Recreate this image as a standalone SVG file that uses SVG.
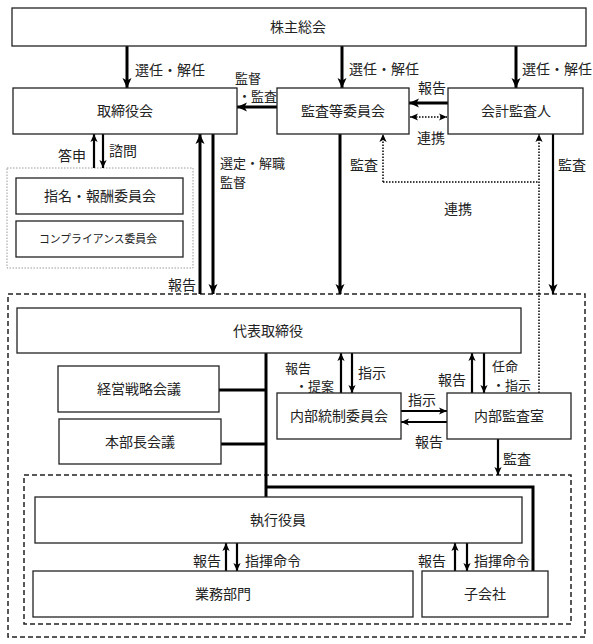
<svg xmlns="http://www.w3.org/2000/svg" width="593" height="644" viewBox="0 0 593 644">
<defs>
<marker id="ah" markerUnits="userSpaceOnUse" markerWidth="10" markerHeight="10" viewBox="0 0 10 10" refX="10" refY="5" orient="auto-start-reverse">
<path d="M0,0.5 L10,5 L0,9.5 L2.5,5 Z" fill="#000"/>
</marker>
<marker id="ahs" markerUnits="userSpaceOnUse" markerWidth="8" markerHeight="8" viewBox="0 0 10 10" refX="10" refY="5" orient="auto-start-reverse">
<path d="M0,0.5 L10,5 L0,9.5 L2.5,5 Z" fill="#000"/>
</marker>
</defs>
<style>
.box{fill:#fff;stroke:#222;stroke-width:1.3}
.t{font-family:"Noto Sans CJK JP","Noto Sans",sans-serif;font-size:14px;fill:#222;text-anchor:middle}
.l{font-family:"Noto Sans CJK JP","Noto Sans",sans-serif;font-size:14px;fill:#222}
.s{font-size:13px}
.th{stroke:#000;stroke-width:3;fill:none}
.md{stroke:#000;stroke-width:2.2;fill:none}
.dot{stroke:#000;stroke-width:1.5;stroke-dasharray:1.5 1.5;fill:none}
.dash{stroke:#222;stroke-width:1.5;stroke-dasharray:5 3;fill:none}
</style>
<rect width="593" height="644" fill="#fff"/>
<g id="frames">
<rect x="8" y="294" width="577" height="343" class="dash"/>
<rect x="24" y="475" width="547" height="149" class="dash"/>
<rect x="7" y="168" width="186" height="100" fill="none" stroke="#999" stroke-width="1" stroke-dasharray="1.5 1.5"/>
</g>
<g id="connectors">
<line x1="127" y1="46" x2="127" y2="88" class="th" marker-end="url(#ah)"/>
<line x1="342" y1="46" x2="342" y2="88" class="th" marker-end="url(#ah)"/>
<line x1="516" y1="46" x2="516" y2="88" class="th" marker-end="url(#ah)"/>
<line x1="277" y1="107" x2="237" y2="107" class="th" marker-end="url(#ah)"/>
<line x1="448" y1="103" x2="409" y2="103" class="th" marker-end="url(#ah)"/>
<line x1="410" y1="117" x2="447" y2="117" class="dot" marker-start="url(#ahs)" marker-end="url(#ahs)"/>
<line x1="94" y1="168" x2="94" y2="134" class="md" marker-end="url(#ahs)"/>
<line x1="103" y1="134" x2="103" y2="168" class="md" marker-end="url(#ahs)"/>
<line x1="200" y1="294" x2="200" y2="134" class="th" marker-end="url(#ah)"/>
<line x1="213" y1="134" x2="213" y2="294" class="th" marker-end="url(#ah)"/>
<line x1="340" y1="134" x2="340" y2="294" class="th" marker-end="url(#ah)"/>
<line x1="553" y1="134" x2="553" y2="294" class="md" marker-end="url(#ah)"/>
<path d="M383,182 H539" class="dot"/>
<line x1="383" y1="182" x2="383" y2="134" class="dot" marker-end="url(#ahs)"/>
<line x1="539" y1="393" x2="539" y2="134" class="dot" marker-end="url(#ahs)"/>
<line x1="266" y1="353" x2="266" y2="497" class="th"/>
<line x1="219" y1="390" x2="266" y2="390" class="th"/>
<line x1="221" y1="444" x2="266" y2="444" class="th"/>
<path d="M266,487 H533 V571" class="th"/>
<line x1="341" y1="393" x2="341" y2="353" class="md" marker-end="url(#ahs)"/>
<line x1="352" y1="353" x2="352" y2="393" class="md" marker-end="url(#ahs)"/>
<line x1="472" y1="393" x2="472" y2="353" class="md" marker-end="url(#ahs)"/>
<line x1="484" y1="353" x2="484" y2="393" class="md" marker-end="url(#ahs)"/>
<line x1="401" y1="411" x2="447" y2="411" class="md" marker-end="url(#ahs)"/>
<line x1="447" y1="422" x2="401" y2="422" class="md" marker-end="url(#ahs)"/>
<line x1="498" y1="439" x2="498" y2="475" class="md" marker-end="url(#ahs)"/>
<line x1="226" y1="571" x2="226" y2="543" class="md" marker-end="url(#ahs)"/>
<line x1="237" y1="543" x2="237" y2="571" class="md" marker-end="url(#ahs)"/>
<line x1="455" y1="571" x2="455" y2="543" class="md" marker-end="url(#ahs)"/>
<line x1="467" y1="543" x2="467" y2="571" class="md" marker-end="url(#ahs)"/>
</g>
<g id="labels">
<text class="l" x="135" y="75">選任・解任</text>
<text class="l" x="349" y="74">選任・解任</text>
<text class="l" x="522" y="74">選任・解任</text>
<text class="l s" x="235" y="83">監督</text>
<text class="l s" x="238" y="101">・監査</text>
<text class="l" x="418" y="93">報告</text>
<text class="l" x="417" y="143">連携</text>
<text class="l" x="58" y="161">答申</text>
<text class="l" x="109" y="156">諮問</text>
<text class="l s" x="220" y="168">選定・解職</text>
<text class="l s" x="220" y="187">監督</text>
<text class="l" x="168" y="290">報告</text>
<text class="l" x="350" y="170">監査</text>
<text class="l" x="558" y="170">監査</text>
<text class="l" x="444" y="214">連携</text>
<text class="l s" x="285" y="373">報告</text>
<text class="l s" x="295" y="391">・提案</text>
<text class="l" x="358" y="378">指示</text>
<text class="l" x="438" y="385">報告</text>
<text class="l s" x="492" y="371">任命</text>
<text class="l s" x="492" y="390">・指示</text>
<text class="l" x="408" y="405">指示</text>
<text class="l" x="415" y="447">報告</text>
<text class="l" x="503" y="464">監査</text>
<text class="l" x="193" y="566">報告</text>
<text class="l" x="245" y="566">指揮命令</text>
<text class="l" x="418" y="566">報告</text>
<text class="l" x="474" y="566">指揮命令</text>
</g>
<g id="n-shareholders"><rect x="12" y="8" width="574" height="38" class="box"/><text class="t" x="298" y="32">株主総会</text></g>
<g id="n-board"><rect x="13" y="88" width="224" height="46" class="box"/><text class="t" x="125" y="116">取締役会</text></g>
<g id="n-audit-committee"><rect x="277" y="88" width="132" height="46" class="box"/><text class="t" x="343" y="116">監査等委員会</text></g>
<g id="n-accounting-auditor"><rect x="448" y="88" width="135" height="46" class="box"/><text class="t" x="516" y="116">会計監査人</text></g>
<g id="n-nomination"><rect x="16" y="178" width="167" height="36" class="box"/><text class="t" x="100" y="201">指名・報酬委員会</text></g>
<g id="n-compliance"><rect x="16" y="221" width="167" height="36" class="box"/><text class="t" x="98" y="243" style="font-size:11px" textLength="118" lengthAdjust="spacingAndGlyphs">コンプライアンス委員会</text></g>
<g id="n-ceo"><rect x="17" y="308" width="504" height="45" class="box"/><text class="t" x="268" y="336">代表取締役</text></g>
<g id="n-strategy"><rect x="58" y="366" width="161" height="46" class="box"/><text class="t" x="139" y="394">経営戦略会議</text></g>
<g id="n-gm-meeting"><rect x="59" y="419" width="162" height="45" class="box"/><text class="t" x="140" y="447">本部長会議</text></g>
<g id="n-internal-control"><rect x="277" y="393" width="124" height="46" class="box"/><text class="t" x="339" y="421">内部統制委員会</text></g>
<g id="n-internal-audit"><rect x="447" y="393" width="124" height="46" class="box"/><text class="t" x="509" y="421">内部監査室</text></g>
<g id="n-officers"><rect x="35" y="497" width="487" height="46" class="box"/><text class="t" x="278" y="525">執行役員</text></g>
<g id="n-business"><rect x="33" y="571" width="380" height="46" class="box"/><text class="t" x="223" y="599">業務部門</text></g>
<g id="n-subsidiary"><rect x="422" y="571" width="126" height="46" class="box"/><text class="t" x="485" y="599">子会社</text></g>
</svg>
